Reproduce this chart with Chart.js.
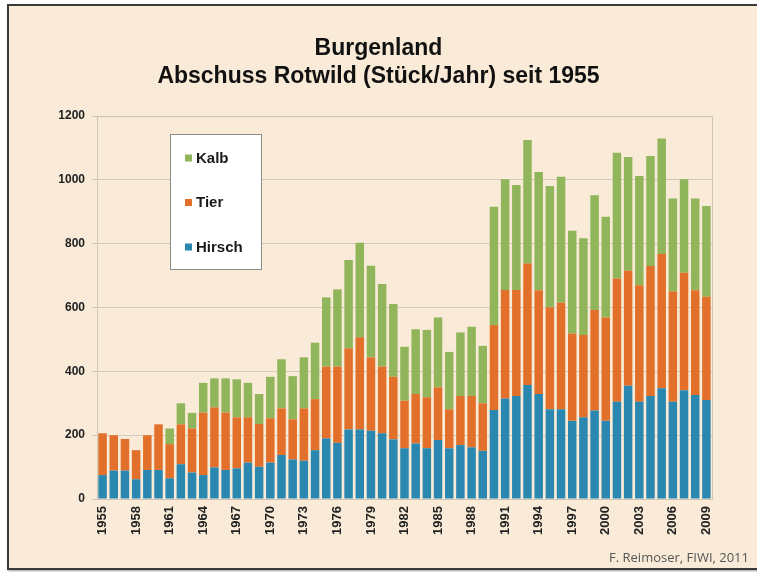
<!DOCTYPE html>
<html>
<head>
<meta charset="utf-8">
<script src="https://cdn.jsdelivr.net/npm/chart.js@4.4.1/dist/chart.umd.min.js"></script>
<style>
    body { margin: 0; background: #ffffff; width: 757px; height: 572px; overflow: hidden; position: relative; font-family: "Liberation Sans", Arial, sans-serif; }
    #frame { position: absolute; left: 7px; top: 4px; width: 800px; height: 562px; border: 2px solid #3a3a3a; background: #f9ebd7; box-shadow: 1px 1px 2px #999; }
    #chartBox { position: absolute; left: 0; top: 0; width: 757px; height: 572px; }
    #credit { position: absolute; right: 8px; top: 548px; font-family: "Open Sans", "Liberation Sans", sans-serif; font-size: 13px; color: #555; }
</style>
</head>
<body>
<div id="frame"></div>
<div id="chartBox"><canvas id="barChart" width="757" height="572"></canvas></div>
<div id="credit">F. Reimoser, FIWI, 2011</div>
<script>
// Jahre 1955 - 2009
const years = ['1955','1956','1957','1958','1959','1960','1961','1962','1963','1964',
    '1965','1966','1967','1968','1969','1970','1971','1972','1973','1974',
    '1975','1976','1977','1978','1979','1980','1981','1982','1983','1984',
    '1985','1986','1987','1988','1989','1990','1991','1992','1993','1994',
    '1995','1996','1997','1998','1999','2000','2001','2002','2003','2004',
    '2005','2006','2007','2008','2009'];

const hirsch = [75,89,89,62,91,91,65,109,83,75,
    99,91,96,114,101,114,138,124,120,153,
    190,176,218,218,214,206,187,159,174,159,
    185,159,169,162,151,279,315,323,357,329,
    281,281,245,256,277,245,305,355,305,323,
    347,305,341,326,310];

const tier = [131,111,99,91,109,143,107,125,138,196,
    188,180,160,142,134,139,146,126,164,160,
    225,239,254,289,230,209,196,149,155,160,
    165,122,154,161,149,266,340,332,381,325,
    320,334,274,258,315,324,386,360,365,407,
    421,345,368,328,324];

const kalb = [0,0,0,0,0,0,49,66,49,93,
    91,107,119,108,94,130,154,135,160,177,
    217,242,277,296,287,259,228,169,203,211,
    219,180,199,217,180,371,347,329,387,371,
    380,395,322,303,360,316,394,357,342,345,
    362,292,293,288,284];

const yTicks = [0, 200, 400, 600, 800, 1000, 1200];

const font = '"Liberation Sans", Arial, sans-serif';

// Rahmen um die Zeichenfläche
const areaBorder = {
    id: 'areaBorder',
    beforeDatasetsDraw(chart) {
        const a = chart.chartArea, ctx = chart.ctx;
        ctx.save();
        ctx.strokeStyle = '#cfc6b8';
        ctx.lineWidth = 1;
        ctx.strokeRect(a.left + 0.5, a.top + 0.5, a.right - a.left, a.bottom - a.top);
        ctx.restore();
    }
};

// Legende im Diagramm (Kalb oben, Hirsch unten)
const boxLegend = {
    id: 'boxLegend',
    afterDraw(chart) {
        const ctx = chart.ctx;
        const x = 170, y = 134, w = 91, h = 135;
        ctx.save();
        ctx.fillStyle = '#ffffff';
        ctx.fillRect(x, y, w, h);
        ctx.strokeStyle = '#8a8a8a';
        ctx.lineWidth = 1;
        ctx.strokeRect(x + 0.5, y + 0.5, w, h);
        const items = chart.data.datasets.slice().reverse();
        ctx.font = 'bold 15px ' + font;
        ctx.textBaseline = 'middle';
        items.forEach(function(ds, i) {
            const cy = y + 24 + i * 44.5;
            ctx.fillStyle = ds.backgroundColor;
            ctx.fillRect(x + 15, cy - 3.5, 7, 7);
            ctx.fillStyle = '#1a1a1a';
            ctx.fillText(ds.label, x + 26, cy + 0.5);
        });
        ctx.restore();
    }
};

const ctx = document.getElementById('barChart').getContext('2d');
new Chart(ctx, {
    type: 'bar',
    data: {
        labels: years,
        datasets: [{
            label: 'Hirsch',
            data: hirsch,
            backgroundColor: '#2a87b0'
        }, {
            label: 'Tier',
            data: tier,
            backgroundColor: '#e2702b'
        }, {
            label: 'Kalb',
            data: kalb,
            backgroundColor: '#91b55a'
        }]
    },
    options: {
        responsive: false,
        animation: false,
        layout: { padding: 0 },
        datasets: { bar: { barPercentage: 0.76, categoryPercentage: 1 } },
        plugins: {
            legend: { display: false },
            tooltip: { enabled: false },
            title: {
                display: true,
                text: ['Burgenland', 'Abschuss Rotwild (Stück/Jahr) seit 1955'],
                color: '#111',
                font: { family: font, size: 23, weight: 'bold', lineHeight: 1.22 },
                padding: { top: 35, bottom: 25 }
            }
        },
        scales: {
            x: {
                stacked: true,
                grid: { display: false, drawTicks: false },
                border: { color: '#a9a196' },
                ticks: {
                    autoSkip: false,
                    minRotation: 90,
                    maxRotation: 90,
                    padding: 7,
                    color: '#222',
                    font: { family: font, size: 13, weight: 'bold' },
                    callback: function(value, index) {
                        return index % 3 === 0 ? years[index] : '';
                    }
                },
                afterFit: function(scale) { scale.height = 73; }
            },
            y: {
                stacked: true,
                min: 0,
                max: 1200,
                afterBuildTicks: function(scale) {
                    scale.ticks = yTicks.map(function(v) { return { value: v }; });
                },
                grid: { color: '#d3cabc', tickLength: 5 },
                border: { color: '#a9a196' },
                ticks: {
                    padding: 7,
                    color: '#222',
                    font: { family: font, size: 12, weight: 'bold' },
                    callback: function(value) { return String(value); }
                },
                afterFit: function(scale) { scale.width = 97; }
            },
            // leerer Rand rechts, damit der Titel mittig sitzt
            rightPad: {
                position: 'right',
                grid: { display: false },
                border: { display: false },
                ticks: { display: false },
                afterFit: function(scale) { scale.width = 45; }
            }
        }
    },
    plugins: [areaBorder, boxLegend]
});
</script>
</body>
</html>
